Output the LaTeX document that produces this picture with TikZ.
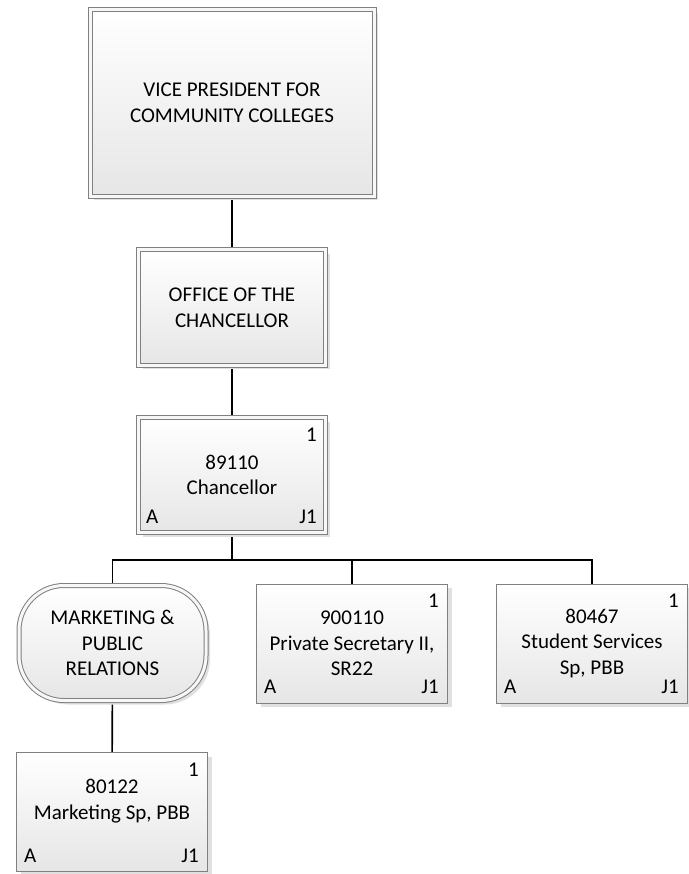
\documentclass[tikz,border=0pt]{standalone}
\usepackage{fontspec}
\setmainfont{Carlito}
\usetikzlibrary{shadows}
\usetikzlibrary{backgrounds}
\definecolor{boxgray}{RGB}{128,128,128}
\definecolor{boxfill}{RGB}{230,230,230}

\begin{document}
\begin{tikzpicture}[x=1pt, y=1pt, font=\fontsize{21}{25.6}\selectfont,
    unit/.style={draw=boxgray, line width=1pt, top color=white, bottom color=boxfill, align=center, inner sep=0pt, drop shadow={shadow xshift=4pt, shadow yshift=-4pt, fill=black!12, opacity=1}},
    dblunit/.style={unit, double=white!97!black, double distance=3pt, minimum width=187, minimum height=115},
    posbox/.style={unit, minimum width=191, minimum height=119},
    corner/.style={inner sep=0pt},
    link/.style={line width=1.6pt}]
    \useasboundingbox (0,0) rectangle (688,-874);

    \node [dblunit, minimum width=284, minimum height=187] (vp) at (232,-103) {VICE PRESIDENT FOR\\COMMUNITY COLLEGES};
    \node [dblunit] (office) at (232,-307.5) {OFFICE OF THE\\CHANCELLOR};
    \node [dblunit] (chan) at (232,-475) {89110\\Chancellor};
    \node [dblunit, rounded corners=45pt] (mpr) at (112.5,-643) {MARKETING \&\\PUBLIC\\RELATIONS};
    \node [posbox] (ps) at (352,-643.5) {900110\\Private Secretary II,\\SR22};
    \node [posbox] (ss) at (592,-643.5) {80467\\Student Services\\Sp, PBB};
    \node [posbox] (mk) at (112,-812) {80122\\Marketing Sp, PBB\\~};

    \foreach \n in {chan, ps, ss, mk} {
      \node [corner, anchor=base east] (\n-count) at ([shift={(-9,-24)}]\n.north east) {1};
      \node [corner, anchor=base west] (\n-type) at ([shift={(8,10)}]\n.south west) {A};
      \node [corner, anchor=base east] (\n-class) at ([shift={(-9,10)}]\n.south east) {J1};
    }

    \coordinate (split) at (232,-560);
    \begin{scope}[on background layer]
      \draw [link] (vp) -- (office);
      \draw [link] (office) -- (chan);
      \draw [link] (chan) -- (split);
      \draw [link] (split) -| (mpr);
      \draw [link] (split) -| (ps);
      \draw [link] (split) -| (ss);
      \draw [link] (mpr) -- (mk);
    \end{scope}
  \end{tikzpicture}
\end{document}
